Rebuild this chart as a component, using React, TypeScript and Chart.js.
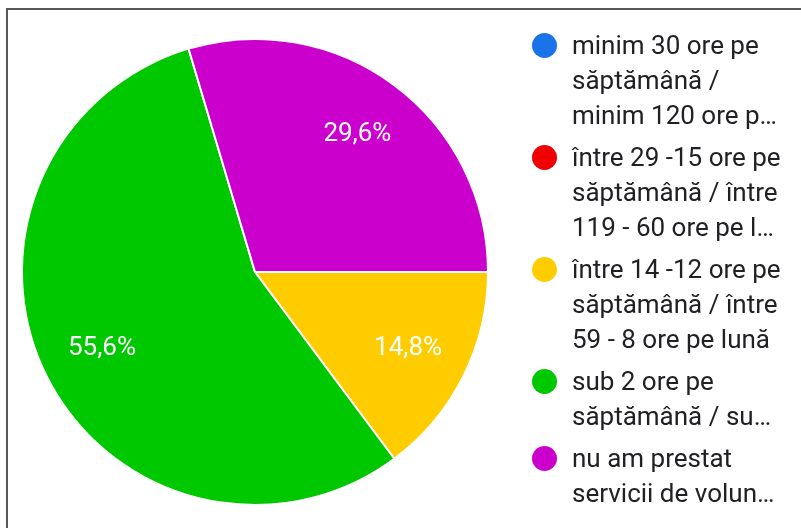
import React, { useEffect, useRef } from "react";
import { Chart, registerables } from "chart.js";

Chart.register(...registerables);

const categories: string[][] = [
  ["minim 30 ore pe", "săptămână /", "minim 120 ore p…"],
  ["între 29 -15 ore pe", "săptămână / între", "119 - 60 ore pe l…"],
  ["între 14 -12 ore pe", "săptămână / între", "59 - 8 ore pe lună"],
  ["sub 2 ore pe", "săptămână / su…"],
  ["nu am prestat", "servicii de volun…"],
];
const percentages: number[] = [0, 0, 14.8, 55.6, 29.6];
const colors: string[] = ["#1a73e8", "#f00000", "#ffcc00", "#00c800", "#cc00cc"];

const FONT = "Roboto, 'Noto Sans', sans-serif";

const sliceLabels = {
  id: "sliceLabels",
  afterDatasetsDraw(chart: any) {
    const ctx = chart.ctx;
    const meta = chart.getDatasetMeta(0);
    const data = chart.data.datasets[0].data as number[];
    ctx.save();
    ctx.fillStyle = "#ffffff";
    ctx.font = `26px ${FONT}`;
    ctx.textAlign = "center";
    ctx.textBaseline = "middle";
    meta.data.forEach((arc: any, i: number) => {
      const v = data[i];
      if (!v) return;
      const { x, y, startAngle, endAngle, outerRadius } = arc.getProps(
        ["x", "y", "startAngle", "endAngle", "outerRadius"],
        true
      );
      const mid = (startAngle + endAngle) / 2;
      const r = outerRadius * 0.735;
      const txt = v.toFixed(1).replace(".", ",") + "%";
      ctx.fillText(txt, x + Math.cos(mid) * r, y + Math.sin(mid) * r);
    });
    ctx.restore();
  },
};

export default function App() {
  const canvasRef = useRef<HTMLCanvasElement | null>(null);

  useEffect(() => {
    if (!canvasRef.current) return;
    const chart = new Chart(canvasRef.current, {
      type: "pie",
      data: {
        labels: categories.map((l) => l.join(" ")),
        datasets: [
          {
            data: percentages,
            backgroundColor: colors,
            borderColor: "#ffffff",
            borderWidth: 2,
          },
        ],
      },
      options: {
        animation: false,
        responsive: false,
        rotation: 90,
        layout: { padding: { left: 21, top: 38, right: 312, bottom: 22 } },
        plugins: {
          legend: { display: false },
          tooltip: { enabled: false },
        },
      },
      plugins: [sliceLabels],
    });
    return () => chart.destroy();
  }, []);

  const itemTops = [28, 140, 252, 364, 441];

  return (
    <div
      style={{
        position: "fixed",
        left: 0,
        top: 0,
        width: 801,
        height: 528,
        background: "#ffffff",
        overflow: "hidden",
      }}
    >
      <canvas
        ref={canvasRef}
        width={801}
        height={528}
        style={{ position: "absolute", left: 0, top: 0, width: 801, height: 528 }}
      />
      <div
        style={{
          position: "absolute",
          left: 6,
          top: 8,
          width: 820,
          height: 540,
          borderTop: "2px solid #5a5a5a",
          borderLeft: "2px solid #5a5a5a",
          pointerEvents: "none",
        }}
      />
      {categories.map((lines, i) => (
        <div
          key={i}
          style={{
            position: "absolute",
            left: 532,
            top: itemTops[i],
            fontFamily: FONT,
            fontSize: 26,
            lineHeight: "35px",
            color: "#202124",
            whiteSpace: "nowrap",
          }}
        >
          <span
            style={{
              position: "absolute",
              left: 0,
              top: 5,
              width: 25,
              height: 25,
              borderRadius: "50%",
              background: colors[i],
            }}
          />
          <div style={{ marginLeft: 40 }}>
            {lines.map((t, j) => (
              <div key={j}>{t}</div>
            ))}
          </div>
        </div>
      ))}
    </div>
  );
}
